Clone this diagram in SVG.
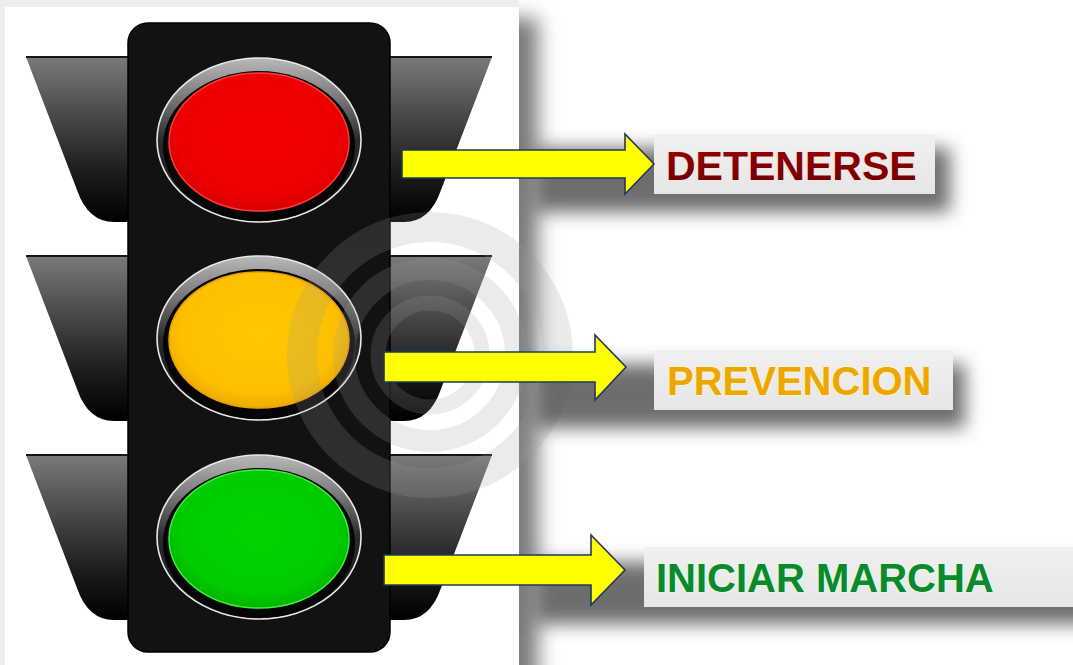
<svg xmlns="http://www.w3.org/2000/svg" width="1073" height="665" viewBox="0 0 1073 665">
  <defs>
    <style>
      .visor { fill: url(#visorGrad); }
      .visorEdge { stroke: #151515; stroke-width: 2; }
      .bezel { fill: url(#bezelGrad); stroke: #e8e8e8; stroke-width: 1.6; }
      .well { fill: #050505; }
      .arrow { fill: #ffff00; stroke: #1f3a5a; stroke-width: 1.6; stroke-linejoin: miter; }
      .labelBox { fill: url(#boxGrad); }
      .shadow { fill: #4a4a4a; filter: url(#soft); opacity: 0.8; }
      .label { font-family: "Liberation Sans", Arial, sans-serif; font-weight: bold; font-size: 40px; paint-order: stroke; stroke-width: 2.2px; stroke-linejoin: round; }
      .ring { fill: none; stroke: #9d9d9d; }
    </style>
    <linearGradient id="visorGrad" x1="0" y1="0" x2="0" y2="1">
      <stop offset="0" stop-color="#7a7a7a"/>
      <stop offset="0.3" stop-color="#505050"/>
      <stop offset="0.7" stop-color="#1c1c1c"/>
      <stop offset="1" stop-color="#000"/>
    </linearGradient>
    <linearGradient id="bezelGrad" x1="0" y1="0" x2="0" y2="1">
      <stop offset="0" stop-color="#b8b8b8"/>
      <stop offset="0.22" stop-color="#808080"/>
      <stop offset="0.5" stop-color="#2a2a2a"/>
      <stop offset="1" stop-color="#111"/>
    </linearGradient>
    <radialGradient id="redLens" cx="0.5" cy="0.45" r="0.55">
      <stop offset="0" stop-color="#f40000"/>
      <stop offset="0.8" stop-color="#ee0000"/>
      <stop offset="1" stop-color="#d80000"/>
    </radialGradient>
    <radialGradient id="yellowLens" cx="0.5" cy="0.45" r="0.55">
      <stop offset="0" stop-color="#ffc800"/>
      <stop offset="0.8" stop-color="#fcc000"/>
      <stop offset="1" stop-color="#eeac00"/>
    </radialGradient>
    <radialGradient id="greenLens" cx="0.5" cy="0.45" r="0.55">
      <stop offset="0" stop-color="#00d400"/>
      <stop offset="0.8" stop-color="#00cc00"/>
      <stop offset="1" stop-color="#00b400"/>
    </radialGradient>
    <linearGradient id="boxGrad" x1="0" y1="0" x2="0" y2="1">
      <stop offset="0" stop-color="#f0f0f0"/>
      <stop offset="1" stop-color="#e6e6e6"/>
    </linearGradient>
    <linearGradient id="redText" x1="0" y1="0" x2="0" y2="1">
      <stop offset="0" stop-color="#9a0000"/>
      <stop offset="1" stop-color="#6a0000"/>
    </linearGradient>
    <filter id="soft" x="-10%" y="-40%" width="120%" height="180%">
      <feGaussianBlur stdDeviation="9"/>
    </filter>
    <filter id="softWide" x="-30%" y="-5%" width="160%" height="110%">
      <feGaussianBlur stdDeviation="10"/>
    </filter>
  </defs>

  <!-- page -->
  <rect width="1073" height="665" fill="#ffffff"/>

  <!-- drop shadow behind the picture panel -->
  <rect x="420" y="18" width="118" height="680" fill="#7a7a7a" filter="url(#softWide)"/>
  <rect x="0" y="0" width="519" height="665" fill="#eeeeee"/>
  <rect x="5" y="7" width="514" height="658" fill="#ffffff"/>

  <!-- traffic light -->
  <g id="traffic-light">
    <!-- visors -->
    <g id="visors">
      <g>
        <path class="visor" d="M128,57 H26 L77,190 Q88,222 114,222 H128 Z"/>
        <path class="visor" d="M390,57 H492 L441,190 Q430,222 404,222 H390 Z"/>
        <path class="visorEdge" d="M26,57 H128 M390,57 H492"/>
      </g>
      <g transform="translate(0,199)">
        <path class="visor" d="M128,57 H26 L77,190 Q88,222 114,222 H128 Z"/>
        <path class="visor" d="M390,57 H492 L441,190 Q430,222 404,222 H390 Z"/>
        <path class="visorEdge" d="M26,57 H128 M390,57 H492"/>
      </g>
      <g transform="translate(0,398)">
        <path class="visor" d="M128,57 H26 L77,190 Q88,222 114,222 H128 Z"/>
        <path class="visor" d="M390,57 H492 L441,190 Q430,222 404,222 H390 Z"/>
        <path class="visorEdge" d="M26,57 H128 M390,57 H492"/>
      </g>
    </g>

    <!-- housing -->
    <rect id="housing" x="128" y="23" width="262" height="629" rx="20" fill="#121212" stroke="#000" stroke-width="1.5"/>

    <!-- lamps -->
    <g id="lamp-red">
      <ellipse class="bezel" cx="259" cy="140" rx="102" ry="82"/>
      <ellipse class="well" cx="259" cy="146" rx="96" ry="75"/>
      <ellipse cx="259" cy="142" rx="90" ry="69" fill="url(#redLens)" stroke="#ff3a3a" stroke-width="1.5"/>
    </g>
    <g id="lamp-yellow">
      <ellipse class="bezel" cx="259" cy="338" rx="102" ry="82"/>
      <ellipse class="well" cx="259" cy="344" rx="96" ry="75"/>
      <ellipse cx="259" cy="340" rx="90" ry="68" fill="url(#yellowLens)" stroke="#f0a000" stroke-width="1.5"/>
    </g>
    <g id="lamp-green">
      <ellipse class="bezel" cx="259" cy="537" rx="102" ry="82"/>
      <ellipse class="well" cx="259" cy="543" rx="96" ry="75"/>
      <ellipse cx="259" cy="539" rx="90" ry="69" fill="url(#greenLens)" stroke="#3cf03c" stroke-width="1.5"/>
    </g>

    <!-- faint concentric mark over the right side -->
    <g id="mark" opacity="0.2">
      <circle class="ring" cx="430" cy="355" r="52" stroke-width="15"/>
      <circle class="ring" cx="430" cy="355" r="86" stroke-width="22"/>
      <circle class="ring" cx="430" cy="355" r="128" stroke-width="30"/>
    </g>
  </g>

  <!-- label shadows -->
  <rect class="shadow" x="535" y="148" width="415" height="64"/>
  <rect class="shadow" x="535" y="364" width="430" height="64"/>
  <rect class="shadow" x="535" y="562" width="560" height="62"/>

  <!-- labels -->
  <g id="label-detenerse">
    <rect class="labelBox" x="654" y="134" width="281" height="60"/>
    <text class="label" x="666" y="180" fill="url(#redText)" stroke="#f6e4e4" style="font-size:41px">DETENERSE</text>
  </g>
  <g id="label-prevencion">
    <rect class="labelBox" x="654" y="350" width="299" height="60"/>
    <text class="label" x="667" y="395" fill="#eca800" stroke="#fbf0d0">PREVENCION</text>
  </g>
  <g id="label-iniciar-marcha">
    <rect class="labelBox" x="644" y="547" width="429" height="60"/>
    <text class="label" x="656" y="592" fill="#0a8a2c" stroke="#e6f6e6">INICIAR MARCHA</text>
  </g>

  <!-- connectors -->
  <g id="connectors">
    <path class="arrow" d="M402,150 H625 V134 L654,164 L625,194 V178 H402 Z"/>
    <path class="arrow" d="M384,352 H595 V335 L626,367 L595,400 V382 H384 Z"/>
    <path class="arrow" d="M384,555 H591 V535 L625,570 L591,605 V585 H384 Z"/>
  </g>
</svg>
